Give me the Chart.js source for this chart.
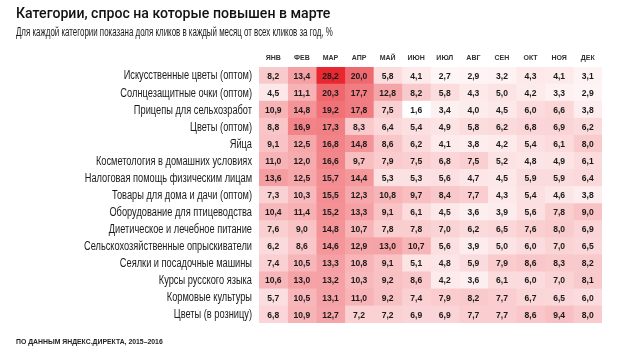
<!DOCTYPE html>
<html><head><meta charset="utf-8">
<script src="https://cdn.jsdelivr.net/npm/chart.js@4/dist/chart.umd.min.js"></script>
<style>html,body{margin:0;padding:0;background:#fff;}#wrap{width:630px;height:353px;position:relative;}</style>
</head><body><div id="wrap"><canvas id="c" width="630" height="353"></canvas></div>
<script>
const months = ['ЯНВ','ФЕВ','МАР','АПР','МАЙ','ИЮН','ИЮЛ','АВГ','СЕН','ОКТ','НОЯ','ДЕК'];
const categories = [
  'Искусственные цветы (оптом)',
  'Солнцезащитные очки (оптом)',
  'Прицепы для сельхозработ',
  'Цветы (оптом)',
  'Яйца',
  'Косметология в домашних условиях',
  'Налоговая помощь физическим лицам',
  'Товары для дома и дачи (оптом)',
  'Оборудование для птицеводства',
  'Диетическое и лечебное питание',
  'Сельскохозяйственные опрыскиватели',
  'Сеялки и посадочные машины',
  'Курсы русского языка',
  'Кормовые культуры',
  'Цветы (в розницу)'
];
const artificialFlowers = [8.2,13.4,28.2,20.0,5.8,4.1,2.7,2.9,3.2,4.3,4.1,3.1];
const sunglasses       = [4.5,11.1,20.3,17.7,12.8,8.2,5.8,4.3,5.0,4.2,3.3,2.9];
const trailers         = [10.9,14.8,19.2,17.8,7.5,1.6,3.4,4.0,4.5,6.0,6.6,3.8];
const flowersWholesale = [8.8,16.9,17.3,8.3,6.4,5.4,4.9,5.8,6.2,6.8,6.9,6.2];
const eggs             = [9.1,12.5,16.8,14.8,8.6,6.2,4.1,3.8,4.2,5.4,6.1,8.0];
const homeCosmetology  = [11.0,12.0,16.6,9.7,7.9,7.5,6.8,7.5,5.2,4.8,4.9,6.1];
const taxHelp          = [13.6,12.5,15.7,14.4,5.3,5.3,5.6,4.7,4.5,5.9,5.9,6.4];
const homeGoods        = [7.3,10.3,15.5,12.3,10.8,9.7,8.4,7.7,4.3,5.4,4.6,3.8];
const poultryEquipment = [10.4,11.4,15.2,13.3,9.1,6.1,4.5,3.6,3.9,5.6,7.8,9.0];
const dietFood         = [7.6,9.0,14.8,10.7,7.8,7.8,7.0,6.2,6.5,7.6,8.0,6.9];
const sprayers         = [6.2,8.6,14.6,12.9,13.0,10.7,5.6,3.9,5.0,6.0,7.0,6.5];
const seeders          = [7.4,10.5,13.3,10.8,9.1,5.1,4.8,5.9,7.9,8.6,8.3,8.2];
const russianCourses   = [10.6,13.0,13.2,10.3,9.2,8.6,4.2,3.6,6.1,6.0,7.0,8.1];
const fodderCrops      = [5.7,10.5,13.1,11.0,9.2,7.4,7.9,8.2,7.7,6.7,6.5,6.0];
const flowersRetail    = [6.8,10.9,12.7,7.2,7.2,6.9,6.9,7.7,7.7,8.6,9.4,8.0];

const rows = [artificialFlowers,sunglasses,trailers,flowersWholesale,eggs,homeCosmetology,taxHelp,homeGoods,poultryEquipment,dietFood,sprayers,seeders,russianCourses,fodderCrops,flowersRetail];

const allVals = rows.flat();
const vMin = Math.min(...allVals), vMax = Math.max(...allVals);
function colorFor(v){
  const t = (v - vMin) / (vMax - vMin);
  const r = Math.round(255 + (232 - 255) * t);
  const g = Math.round(255 + (40 - 255) * t);
  const b = Math.round(255 + (48 - 255) * t);
  return `rgb(${r},${g},${b})`;
}

const datasets = months.map((m, j) => ({
  label: m,
  data: rows.map(() => [j, j + 1]),
  values: rows.map(r => r[j]),
  backgroundColor: rows.map(r => colorFor(r[j])),
  borderWidth: 0,
  grouped: false,
  barPercentage: 1,
  categoryPercentage: 1,
  xAxisID: 'x'
}));

function condensedText(ctx, text, x, y, sx, align) {
  ctx.save();
  ctx.translate(x, y);
  ctx.scale(sx, 1);
  ctx.textAlign = align;
  ctx.fillText(text, 0, 0);
  ctx.restore();
}

const textPlugin = {
  id: 'texts',
  afterDatasetsDraw(chart) {
    const ctx = chart.ctx;
    ctx.save();
    ctx.textBaseline = 'middle';
    ctx.fillStyle = '#1a1a1a';
    ctx.font = 'bold 9.5px "Liberation Sans", sans-serif';
    chart.data.datasets.forEach((ds, di) => {
      const meta = chart.getDatasetMeta(di);
      meta.data.forEach((el, i) => {
        const p = el.getCenterPoint();
        condensedText(ctx, ds.values[i].toFixed(1).replace('.', ','), p.x, p.y + 0.5, 0.9, 'center');
      });
    });
    // row labels, positioned by the y scale
    const ys = chart.scales.y;
    ctx.font = '12.5px "Liberation Sans", sans-serif';
    ctx.fillStyle = '#1a1a1a';
    categories.forEach((c, i) => {
      condensedText(ctx, c, chart.chartArea.left - 7, ys.getPixelForTick(i) + 0.5, 0.74, 'right');
    });
    ctx.restore();
  },
  afterDraw(chart) {
    const ctx = chart.ctx;
    ctx.save();
    ctx.textBaseline = 'middle';
    ctx.fillStyle = '#111';
    ctx.font = '500 15px Roboto, sans-serif';
    condensedText(ctx, 'Категории, спрос на которые повышен в марте', 16, 14, 0.94, 'left');
    ctx.font = '12px "Liberation Sans", sans-serif';
    ctx.fillStyle = '#1a1a1a';
    condensedText(ctx, 'Для каждой категории показана доля кликов в каждый месяц от всех кликов за год, %', 16, 33, 0.66, 'left');
    ctx.font = 'bold 7px "Liberation Sans", sans-serif';
    ctx.fillStyle = '#222';
    condensedText(ctx, 'ПО ДАННЫМ ЯНДЕКС.ДИРЕКТА, 2015–2016', 16, 342, 0.98, 'left');
    ctx.restore();
  }
};

new Chart(document.getElementById('c'), {
  type: 'bar',
  data: { labels: categories, datasets },
  options: {
    indexAxis: 'y',
    responsive: false,
    animation: false,
    layout: { padding: { left: 16, right: 28, top: 51, bottom: 30 } },
    plugins: { legend: { display: false }, tooltip: { enabled: false }, title: { display: false } },
    scales: {
      x: { type: 'linear', min: 0, max: 12, display: false },
      x2: {
        type: 'category', labels: months, position: 'top', offset: true,
        grid: { display: false, drawTicks: false }, border: { display: false },
        ticks: { autoSkip: false, maxRotation: 0, padding: 5, color: '#333',
          font: { family: '"Liberation Sans", sans-serif', size: 7, weight: 'bold' } },
        afterFit(s) { s.height = 16; }
      },
      y: {
        type: 'category', offset: true,
        grid: { display: false, drawTicks: false }, border: { display: false },
        ticks: { display: false },
        afterFit(s) { s.width = 243; }
      }
    }
  },
  plugins: [textPlugin]
});
</script></body></html>
